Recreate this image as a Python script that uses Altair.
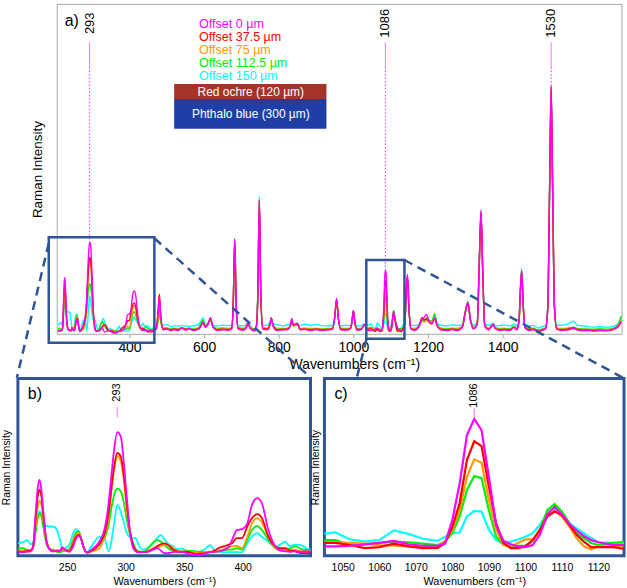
import altair as alt
import pandas as pd

SERIES = ["Offset 0 µm", "Offset 37.5 µm", "Offset 75 µm", "Offset 112.5 µm", "Offset 150 µm"]
KEYS = ["s0", "s1", "s2", "s3", "s4"]
COLORS = ["#ff00ff", "#ff0000", "#ff9900", "#00ee00", "#00ffff"]
FRAME_BLUE = "#2f5597"

# ---- region 208-460 cm-1 (panel a and b) ----
WN_LOW = [208, 212, 216, 219, 221, 223, 225, 226.5, 228, 230,
          232, 235, 238, 241, 244, 246, 249, 252, 255, 257.5,
          260, 262, 264, 267, 270, 274, 278, 282, 285.5, 288,
          290, 293, 296, 298.5, 301, 303.5, 306, 308.5, 311, 315,
          319, 323, 327, 330, 333, 336, 340, 344, 348, 352,
          356, 360, 364, 368, 372, 376, 380, 384, 388, 391,
          395, 399.5, 404, 408, 412.5, 416.5, 422, 428, 432, 436.5,
          440, 445, 450, 455, 460]
M_LOW = [0.9, 0.8, 0.9, 1.0, 2.0, 9.0, 15.5, 17.1, 15.0, 9.0,
         4.0, 1.5, 1.0, 1.1, 1.2, 1.9, 1.2, 0.9, 2.0, 3.8,
         4.5, 3.8, 2.0, 0.7, 1.2, 2.0, 3.4, 6.0, 11.8, 18.5,
         23.5, 27.9, 26.8, 21.0, 13.3, 6.0, 2.1, 1.0, 0.8, 0.8,
         0.9, 1.3, 1.7, 1.2, 0.6, 0.6, 0.8, 0.9, 0.9, 0.6,
         0.2, 0.3, 0.2, 0.5, 0.8, 0.9, 1.0, 1.3, 2.0, 3.6,
         5.8, 6.0, 7.3, 11.5, 13.0, 11.8, 5.8, 2.1, 1.2, 1.0,
         0.9, 1.0, 0.9, 1.0, 1.0]
R_LOW = [1.0, 0.9, 1.1, 1.2, 2.2, 8.0, 13.5, 15.0, 13.5, 8.5,
         4.0, 1.5, 1.0, 1.2, 1.1, 1.7, 1.2, 1.0, 2.5, 4.2,
         4.7, 3.8, 2.0, 0.7, 1.0, 1.6, 2.8, 5.0, 9.6, 15.5,
         19.8, 23.2, 22.3, 18.0, 11.8, 6.0, 2.8, 1.2, 0.8, 0.8,
         1.0, 1.5, 2.2, 2.6, 2.8, 2.5, 1.5, 1.0, 0.8, 0.9,
         0.7, 0.4, 0.5, 0.6, 0.8, 1.2, 1.8, 2.1, 2.5, 2.8,
         4.0, 4.0, 6.6, 8.5, 9.4, 8.5, 4.3, 2.1, 1.7, 1.7,
         1.2, 1.0, 0.6, 0.6, 0.6]
O_LOW = [1.1, 1.0, 1.2, 1.2, 2.0, 6.5, 11.0, 12.4, 11.5, 7.5,
         3.5, 1.6, 1.2, 1.0, 1.0, 1.3, 1.3, 1.3, 3.0, 4.6,
         5.1, 4.0, 2.0, 0.7, 0.9, 1.2, 1.8, 4.5, 8.8, 15.0,
         19.0, 22.5, 21.2, 17.0, 10.3, 5.5, 2.5, 1.2, 0.9, 0.8,
         1.0, 1.3, 1.8, 2.2, 2.4, 2.5, 1.9, 1.2, 0.9, 1.0,
         0.8, 0.8, 0.6, 0.7, 0.9, 0.9, 1.2, 1.5, 1.9, 2.1,
         2.2, 1.7, 4.3, 7.3, 8.5, 7.5, 4.3, 1.7, 1.2, 1.2,
         1.2, 1.3, 1.0, 1.0, 1.0]
G_LOW = [1.6, 1.7, 1.3, 1.2, 1.8, 5.0, 8.5, 9.6, 9.0, 6.0,
         3.0, 1.5, 1.4, 0.9, 0.8, 1.0, 1.2, 1.6, 3.5, 5.2,
         5.5, 4.0, 2.0, 0.8, 1.0, 1.8, 2.5, 4.0, 7.0, 11.0,
         13.5, 15.2, 14.5, 12.0, 8.1, 5.0, 3.2, 1.6, 1.0, 0.9,
         1.6, 2.8, 3.6, 3.2, 2.5, 1.8, 1.2, 1.0, 1.0, 1.0,
         1.1, 1.0, 0.9, 0.8, 0.8, 0.8, 1.1, 1.3, 1.4, 1.4,
         1.7, 1.4, 3.6, 5.8, 6.7, 5.8, 3.6, 1.7, 1.3, 1.4,
         1.6, 2.1, 1.5, 1.3, 1.3]
C_LOW = [2.8, 3.0, 3.5, 2.6, 3.0, 6.0, 9.2, 10.0, 9.5, 7.8,
         6.8, 6.6, 6.6, 6.0, 3.5, 1.5, 1.8, 2.5, 5.0, 6.0,
         5.5, 3.8, 2.0, 0.8, 1.8, 3.4, 4.3, 3.8, 1.0, 3.5,
         7.0, 11.5, 9.8, 7.5, 5.1, 4.2, 4.0, 4.0, 2.5, 1.4,
         1.8, 2.8, 4.0, 4.7, 3.8, 2.8, 2.2, 1.5, 1.6, 1.2,
         1.0, 0.8, 1.0, 1.5, 2.4, 1.2, 0.9, 0.8, 0.8, 0.8,
         0.8, 0.8, 2.8, 4.3, 5.1, 4.3, 3.2, 2.1, 2.5, 3.2,
         2.2, 2.5, 2.4, 1.6, 1.3]

# ---- region 466-1038 cm-1 (panel a only) ----
WN_MID = [466, 472, 476, 480, 484, 490, 500, 510, 520, 530,
          540, 550, 560, 570, 580, 590, 597, 603, 610, 617,
          624, 635, 650, 665, 674, 678, 682, 686, 691, 705,
          713, 718, 723, 736, 740, 744, 748, 752, 757, 770,
          776, 780, 785, 795, 810, 825, 831, 835, 839, 850,
          857, 870, 885, 900, 915, 930, 944, 950, 955, 960,
          966, 980, 992, 996, 1000, 1004, 1010, 1020, 1030, 1038]
M_MID = [1.0, 1.5, 5.5, 11.0, 5.0, 1.2, 1.5, 1.0, 1.3, 1.0,
         1.8, 1.1, 1.6, 1.0, 1.2, 2.0, 3.5, 2.0, 2.8, 4.9,
         2.0, 1.0, 1.2, 1.1, 1.5, 9.0, 28.9, 9.0, 1.5, 1.1,
         1.8, 3.4, 1.6, 0.8, 2.0, 12.0, 40.7, 12.0, 1.5, 1.2,
         2.5, 4.9, 2.3, 1.0, 1.2, 1.3, 2.8, 4.7, 2.8, 3.0,
         1.2, 1.4, 1.0, 1.3, 1.0, 1.2, 1.4, 5.0, 10.8, 4.5,
         1.2, 1.1, 1.5, 3.5, 7.1, 3.5, 1.1, 1.2, 2.9, 1.1]
R_MID = [1.2, 1.8, 6.0, 12.0, 5.5, 1.4, 1.5, 1.2, 1.4, 1.2,
         1.8, 1.3, 1.5, 1.2, 1.3, 2.0, 3.6, 2.0, 2.8, 4.7,
         2.0, 1.2, 1.4, 1.3, 1.7, 9.0, 28.5, 9.0, 1.7, 1.3,
         1.9, 3.4, 1.7, 1.1, 2.1, 12.0, 40.5, 12.0, 1.6, 1.4,
         2.6, 4.7, 2.4, 1.2, 1.3, 1.5, 2.6, 4.0, 2.6, 3.2,
         1.3, 1.4, 1.2, 1.4, 1.2, 1.3, 1.5, 5.0, 10.5, 4.5,
         1.4, 1.3, 1.6, 3.5, 7.0, 3.5, 1.3, 1.3, 2.7, 1.3]
O_MID = [1.3, 1.6, 4.0, 8.0, 4.0, 1.4, 1.6, 1.3, 1.5, 1.4,
         1.7, 1.4, 1.6, 1.3, 1.4, 2.2, 3.8, 2.1, 2.8, 4.2,
         2.0, 1.4, 1.5, 1.4, 1.8, 8.8, 28.0, 8.8, 1.8, 1.4,
         2.0, 3.3, 1.8, 1.2, 2.2, 12.0, 40.3, 12.0, 1.8, 1.5,
         2.8, 4.6, 2.5, 1.4, 1.4, 1.6, 2.4, 3.5, 2.4, 2.8,
         1.4, 1.5, 1.4, 1.5, 1.4, 1.4, 1.6, 4.9, 10.3, 4.5,
         1.5, 1.4, 1.7, 3.4, 6.8, 3.4, 1.4, 1.4, 2.6, 1.5]
G_MID = [1.6, 1.8, 3.5, 7.0, 3.5, 1.7, 1.8, 1.5, 1.7, 1.5,
         1.8, 1.6, 1.7, 1.5, 1.6, 2.8, 4.2, 2.4, 2.9, 4.0,
         2.2, 1.6, 1.8, 1.6, 2.0, 8.5, 27.5, 8.5, 2.0, 1.6,
         2.2, 3.2, 1.9, 1.4, 2.3, 12.0, 40.0, 12.0, 1.9, 1.7,
         3.0, 4.7, 2.7, 1.6, 1.6, 1.7, 2.4, 3.3, 2.4, 2.6,
         1.6, 1.7, 1.6, 1.6, 1.5, 1.6, 1.7, 4.8, 10.0, 4.4,
         1.7, 1.6, 1.8, 3.4, 6.6, 3.4, 1.6, 1.6, 2.5, 1.6]
C_MID = [2.4, 2.5, 3.5, 6.0, 3.5, 2.6, 2.8, 2.2, 2.5, 2.3,
         2.5, 2.4, 2.2, 2.4, 2.6, 3.5, 4.9, 2.8, 3.2, 4.3,
         2.6, 2.4, 2.6, 2.5, 2.8, 8.8, 28.0, 8.8, 2.6, 2.4,
         2.8, 3.4, 2.5, 1.5, 2.8, 12.5, 41.7, 12.5, 2.4, 2.7,
         3.5, 4.9, 3.0, 2.8, 2.4, 2.8, 3.0, 3.6, 2.8, 3.0,
         2.5, 2.9, 2.6, 2.8, 2.5, 2.4, 2.6, 5.0, 10.3, 4.6,
         2.4, 2.6, 2.5, 3.8, 6.8, 3.6, 2.4, 2.5, 2.9, 2.7]

# ---- region 1044-1128 cm-1 (panel a and c) ----
WN_C = [1044, 1048, 1052, 1056, 1060, 1064, 1068, 1072, 1076, 1078,
        1080, 1082, 1084, 1086, 1088, 1090, 1092, 1094, 1096, 1098,
        1100, 1102, 1104, 1106, 1108, 1110, 1112, 1114, 1116, 1118,
        1120, 1124, 1128]
M_C = [1.0, 1.0, 1.1, 1.3, 1.5, 1.8, 1.3, 1.1, 1.1, 1.4,
       4.8, 10.0, 17.0, 19.3, 17.7, 11.0, 4.0, 1.8, 1.3, 1.0,
       0.9, 1.2, 2.7, 5.6, 6.7, 5.6, 4.3, 3.3, 2.5, 1.9,
       1.6, 1.2, 1.2]
R_C = [1.5, 1.5, 1.2, 0.75, 0.9, 1.4, 1.0, 0.75, 0.8, 1.5,
       3.8, 7.2, 13.4, 16.1, 15.4, 9.6, 4.3, 1.5, 0.75, 0.75,
       1.0, 1.9, 3.4, 5.3, 6.0, 5.5, 4.1, 2.7, 1.7, 0.9,
       0.9, 0.9, 0.6]
O_C = [1.6, 1.6, 1.5, 1.4, 1.2, 1.1, 1.0, 1.0, 1.1, 1.7,
       3.4, 6.2, 11.0, 13.5, 13.0, 7.7, 3.4, 1.2, 1.0, 1.5,
       2.0, 2.0, 3.1, 5.3, 6.2, 5.3, 3.9, 2.2, 1.0, 0.6,
       1.0, 1.0, 1.2]
G_C = [1.9, 1.9, 1.2, 1.3, 1.5, 1.7, 1.6, 1.4, 1.2, 1.7,
       2.9, 5.3, 9.1, 11.1, 10.8, 6.2, 2.4, 1.2, 1.1, 1.1,
       1.1, 1.8, 3.4, 6.2, 7.1, 6.0, 4.4, 2.9, 2.2, 1.5,
       1.2, 1.5, 1.7]
C_C = [2.8, 3.0, 2.0, 1.7, 1.9, 3.3, 2.8, 2.1, 1.8, 2.4,
       2.9, 3.0, 5.3, 6.1, 6.0, 3.4, 1.9, 1.4, 1.7, 2.0,
       2.4, 2.9, 4.1, 5.8, 6.5, 5.5, 4.3, 3.6, 2.9, 2.2,
       1.6, 1.5, 1.4]

# ---- region 1132-1718 cm-1 (panel a only) ----
WN_HIGH = [1132, 1138, 1142, 1145, 1149, 1154, 1165, 1175, 1184, 1190,
           1196, 1203, 1210, 1218, 1224, 1235, 1250, 1265, 1280, 1292,
           1300, 1307, 1314, 1322, 1332, 1337, 1342, 1347, 1352, 1362,
           1370, 1375, 1380, 1392, 1405, 1420, 1430, 1438, 1444, 1448,
           1451, 1455, 1460, 1470, 1482, 1495, 1505, 1515, 1521, 1526,
           1530, 1534, 1539, 1545, 1560, 1575, 1590, 1600, 1615, 1630,
           1645, 1660, 1675, 1690, 1700, 1710, 1718]
M_HIGH = [1.2, 3.5, 14.0, 18.0, 8.0, 1.5, 1.0, 2.0, 4.5, 5.0,
          5.9, 3.8, 3.2, 4.8, 2.6, 1.2, 1.0, 1.3, 1.0, 2.0,
          6.5, 9.5, 4.0, 1.5, 3.0, 20.0, 37.7, 18.0, 2.5, 1.2,
          2.2, 2.9, 1.6, 1.0, 1.2, 1.0, 2.0, 1.2, 4.0, 14.0,
          19.2, 9.0, 1.8, 1.0, 1.3, 0.6, 1.0, 1.5, 8.0, 45.0,
          75.5, 45.0, 8.0, 1.4, 1.0, 1.2, 1.6, 1.2, 0.9, 1.0,
          0.8, 1.0, 0.9, 1.2, 1.6, 2.4, 3.9]
R_HIGH = [1.3, 3.3, 13.5, 17.5, 7.5, 1.6, 1.2, 2.2, 4.9, 4.2,
          4.5, 3.5, 3.0, 4.5, 2.6, 1.3, 1.2, 1.4, 1.2, 2.0,
          6.5, 9.0, 4.0, 1.6, 3.0, 19.5, 37.0, 17.5, 2.5, 1.3,
          2.2, 2.8, 1.7, 1.2, 1.3, 1.2, 2.0, 1.3, 4.0, 14.0,
          19.0, 9.0, 1.9, 1.2, 1.4, 0.8, 1.1, 1.6, 8.0, 44.5,
          75.0, 44.5, 8.0, 1.5, 1.2, 1.4, 1.8, 1.3, 1.1, 1.2,
          1.0, 1.1, 1.0, 1.1, 1.5, 2.2, 3.6]
O_HIGH = [1.4, 3.2, 13.0, 17.0, 7.5, 1.7, 1.4, 2.0, 3.8, 3.6,
          4.0, 3.8, 3.4, 5.0, 2.8, 1.5, 1.3, 1.5, 1.4, 2.2,
          6.6, 9.2, 4.2, 1.7, 3.0, 19.5, 36.5, 17.5, 2.6, 1.5,
          2.3, 2.8, 1.8, 1.4, 1.4, 1.3, 2.1, 1.5, 4.0, 14.0,
          19.0, 9.0, 2.0, 1.3, 1.5, 1.0, 1.2, 1.6, 8.0, 44.0,
          74.5, 44.0, 8.0, 1.6, 1.4, 1.5, 1.8, 1.4, 1.3, 1.3,
          1.2, 1.3, 1.2, 1.3, 1.6, 2.5, 4.2]
G_HIGH = [1.6, 3.0, 13.0, 17.0, 7.5, 1.8, 1.6, 2.2, 4.0, 4.2,
          4.8, 4.2, 3.8, 6.1, 3.0, 1.7, 1.5, 1.7, 1.6, 2.4,
          7.0, 9.8, 4.4, 1.9, 3.0, 19.5, 36.0, 17.5, 2.8, 1.6,
          2.4, 2.8, 1.9, 1.6, 1.6, 1.5, 2.2, 1.7, 4.0, 14.0,
          19.0, 9.0, 2.1, 1.5, 1.7, 1.2, 1.4, 1.8, 8.0, 44.0,
          74.0, 44.0, 8.0, 1.8, 1.6, 1.7, 2.0, 1.6, 1.5, 1.4,
          1.4, 1.5, 1.4, 1.5, 1.8, 3.0, 5.4]
C_HIGH = [2.5, 3.5, 13.5, 17.2, 7.8, 2.6, 2.5, 2.8, 4.2, 4.0,
          4.6, 4.0, 3.6, 5.5, 3.2, 2.6, 2.4, 2.7, 2.5, 2.8,
          6.5, 9.0, 4.2, 2.6, 3.5, 19.5, 36.5, 17.5, 3.2, 2.6,
          2.9, 3.2, 2.4, 2.5, 2.7, 2.4, 2.9, 2.5, 4.4, 14.5,
          19.8, 9.5, 2.7, 2.4, 2.5, 1.8, 2.2, 2.6, 8.0, 44.0,
          74.0, 44.0, 8.0, 2.6, 2.6, 3.0, 3.8, 2.6, 2.4, 2.2,
          2.0, 2.2, 2.0, 2.1, 2.4, 3.0, 5.0]

PEAKS = [293, 1086, 1530]
PEAK_TOPS = [28.0, 19.3, 75.5]
XTICKS_A = [400, 600, 800, 1000, 1200, 1400]
XTICKS_B = [250, 300, 350, 400]
XTICKS_C = [1050, 1060, 1070, 1080, 1090, 1100, 1110, 1120]
LAYERS_TXT = ["Red ochre (120 µm)", "Phthalo blue (300 µm)"]
LAYER_FILL = ["#a5332b", "#1f3fa6"]
XTITLE = "Wavenumbers (cm⁻¹)"
YTITLE = "Raman Intensity"


def wide(wn, m, r, o, g, c):
    return pd.DataFrame({"wn": wn, "s0": m, "s1": r, "s2": o, "s3": g, "s4": c})


low = wide(WN_LOW, M_LOW, R_LOW, O_LOW, G_LOW, C_LOW)
mid = wide(WN_MID, M_MID, R_MID, O_MID, G_MID, C_MID)
reg_c = wide(WN_C, M_C, R_C, O_C, G_C, C_C)
high = wide(WN_HIGH, M_HIGH, R_HIGH, O_HIGH, G_HIGH, C_HIGH)
full = pd.concat([low, mid, reg_c, high], ignore_index=True)
ONE = pd.DataFrame({"k": [0]})


def spectra(df, xs, ys, xaxis, yaxis, sw, interp, clip):
    layers = []
    for key, color in reversed(list(zip(KEYS, COLORS))):
        layers.append(
            alt.Chart(df).mark_line(color=color, strokeWidth=sw, interpolate=interp, clip=clip)
            .encode(x=alt.X("wn:Q", scale=xs, axis=xaxis),
                    y=alt.Y(f"{key}:Q", scale=ys, axis=yaxis))
        )
    return layers


# ================= panel a =================
xa = alt.Scale(domain=[205, 1720], range=[39, 607], nice=False, zero=False)
ya = alt.Scale(domain=[0, 100], nice=False)
xaxis_a = alt.Axis(values=XTICKS_A, format="d", title=XTITLE, grid=False, labelFontSize=14,
                   titleFontSize=14, titleFontWeight="normal", domainColor="#a6a6a6",
                   tickColor="#a6a6a6", tickSize=4, labelPadding=3, titlePadding=3,
                   titleX=338, labelColor="black", titleColor="black")
yaxis_a = alt.Axis(title=YTITLE, labels=False, ticks=False, grid=False, offset=-39,
                   domainColor="#a6a6a6", titleFontSize=13.5, titleFontWeight="normal",
                   titlePadding=12, titleColor="black")

a_layers = spectra(full, xa, ya, xaxis_a, yaxis_a, 1.4, "monotone", False)

# frame (top and right)
a_layers.append(alt.Chart(ONE).mark_rule(color="#a6a6a6", strokeWidth=1).encode(
    x=alt.datum(205), x2=alt.datum(1720), y=alt.datum(100)))
a_layers.append(alt.Chart(ONE).mark_rule(color="#a6a6a6", strokeWidth=1).encode(
    x=alt.datum(1720), y=alt.datum(0), y2=alt.datum(100)))

# peak markers
for p, top in zip(PEAKS, PEAK_TOPS):
    a_layers.append(alt.Chart(ONE).mark_rule(color="#ff88ff", strokeWidth=1.2).encode(
        x=alt.datum(p), y=alt.datum(88.5), y2=alt.datum(81)))
    a_layers.append(alt.Chart(ONE).mark_rule(color="#ff44ff", strokeWidth=1.2, strokeDash=[1.5, 2]).encode(
        x=alt.datum(p), y=alt.datum(81), y2=alt.datum(top)))
    a_layers.append(alt.Chart(ONE).mark_text(text=str(p), angle=270, fontSize=13, align="center",
                                             baseline="middle", color="black").encode(
        x=alt.datum(p), y=alt.value(19)))

# legend texts
for i, (name, color) in enumerate(zip(SERIES, COLORS)):
    a_layers.append(alt.Chart(ONE).mark_text(text=name, fontSize=12.6, align="left",
                                             baseline="middle", color=color).encode(
        x=alt.value(182), y=alt.value(20 + 13.1 * i)))

# layer boxes
a_layers.append(alt.Chart(ONE).mark_rect(color=LAYER_FILL[0]).encode(
    x=alt.value(157), x2=alt.value(310), y=alt.value(80), y2=alt.value(95)))
a_layers.append(alt.Chart(ONE).mark_rect(color=LAYER_FILL[1]).encode(
    x=alt.value(157), x2=alt.value(310), y=alt.value(95), y2=alt.value(125)))
a_layers.append(alt.Chart(ONE).mark_text(text=LAYERS_TXT[0], fontSize=12, color="white",
                                         align="center", baseline="middle").encode(
    x=alt.value(234), y=alt.value(88)))
a_layers.append(alt.Chart(ONE).mark_text(text=LAYERS_TXT[1], fontSize=12, color="white",
                                         align="center", baseline="middle").encode(
    x=alt.value(234), y=alt.value(110)))

a_layers.append(alt.Chart(ONE).mark_text(text="a)", fontSize=16, align="left",
                                         baseline="middle", color="black").encode(
    x=alt.value(47), y=alt.value(17)))

# zoom boxes and connectors (panel-a data coordinates)
ZOOM_BOXES = [(183.6, 466.7, -2.7, 29.3), (1034.7, 1136.9, -1.5, 22.4)]
CONNECTORS = [(183.6, 27.5, 98.2, -13.3), (466.7, 29.0, 885.9, -13.3),
              (1035.4, -1.5, 1008.7, -13.6), (1136.9, 22.4, 1727.0, -13.6)]
for x1, x2, y1, y2 in ZOOM_BOXES:
    a_layers.append(alt.Chart(ONE).mark_rect(fillOpacity=0, stroke=FRAME_BLUE, strokeWidth=2.5).encode(
        x=alt.datum(x1), x2=alt.datum(x2), y=alt.datum(y1), y2=alt.datum(y2)))
for x1, y1, x2, y2 in CONNECTORS:
    a_layers.append(alt.Chart(ONE).mark_rule(color=FRAME_BLUE, strokeWidth=2.5, strokeDash=[9, 6]).encode(
        x=alt.datum(x1), y=alt.datum(y1), x2=alt.datum(x2), y2=alt.datum(y2)))

panel_a = alt.layer(*a_layers).properties(
    width=607, height=331, view=alt.ViewBackground(stroke="transparent"))


# ================= panel b / c =================
def zoom_panel(df, xdom, ydom, ticks, width, sw, interp, label, peak, ptop, pbot, plabel_y, ytp):
    xs = alt.Scale(domain=xdom, nice=False, zero=False)
    ys = alt.Scale(domain=ydom, nice=False, zero=False)
    xaxis = alt.Axis(values=ticks, format="d", title=XTITLE, grid=False, domain=False, ticks=False,
                     labelFontSize=10.5, titleFontSize=11, titleFontWeight="normal",
                     labelPadding=7, titlePadding=2, labelColor="black", titleColor="black")
    yaxis = alt.Axis(title=YTITLE, labels=False, ticks=False, grid=False, domain=False,
                     titleFontSize=10.5, titleFontWeight="normal", titlePadding=ytp,
                     titleColor="black")
    layers = spectra(df, xs, ys, xaxis, yaxis, sw, interp, True)
    layers.append(alt.Chart(ONE).mark_rule(color="#ff99ff", strokeWidth=1.5).encode(
        x=alt.datum(peak), y=alt.datum(ptop), y2=alt.datum(pbot)))
    layers.append(alt.Chart(ONE).mark_text(text=str(peak), angle=270, fontSize=11, align="center",
                                           baseline="middle", color="black").encode(
        x=alt.datum(peak), y=alt.value(plabel_y)))
    layers.append(alt.Chart(ONE).mark_text(text=label, fontSize=16, align="left",
                                           baseline="middle", color="black").encode(
        x=alt.value(10), y=alt.value(16)))
    return alt.layer(*layers).properties(
        width=width, height=178,
        view=alt.ViewBackground(stroke=FRAME_BLUE, strokeWidth=3))


panel_b = zoom_panel(low, [208, 458], [0, 40], XTICKS_B, 294, 1.8, "monotone",
                     "b)", 293, 33.5, 31.2, 14, 6)
panel_c = zoom_panel(reg_c, [1045, 1127], [-0.34, 25.1], XTICKS_C, 301, 2.2, "linear",
                     "c)", 1086, 20.8, 19.6, 17, 4)

row2 = alt.hconcat(panel_b, panel_c, spacing=14, bounds="flush")
chart = alt.vconcat(panel_a, row2, spacing=45, bounds="flush").properties(
    padding={"left": 0, "top": 2, "right": 0, "bottom": 0}
).configure(font="Liberation Sans")

chart.save("out.html", embed_options={"renderer": "svg", "actions": False})
